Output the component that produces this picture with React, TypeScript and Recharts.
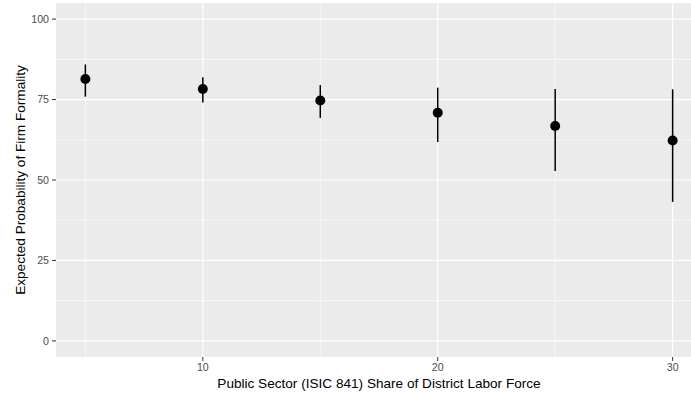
import React from 'react';
import {
  ComposedChart,
  Scatter,
  ErrorBar,
  XAxis,
  YAxis,
  CartesianGrid,
  Label,
} from 'recharts';

// public sector share (x) and expected probability with interval
const shares = [5, 10, 15, 20, 25, 30];
const estimates = [81.4, 78.3, 74.7, 70.9, 66.8, 62.3];
const lower = [75.9, 74.1, 69.3, 61.8, 52.8, 43.2];
const upper = [85.9, 81.9, 79.5, 78.7, 78.3, 78.2];

const xTicks = [10, 20, 30];
const xMinor = [5, 15, 25];
const yTicks = [0, 25, 50, 75, 100];
const yMinor = [12.5, 37.5, 62.5, 87.5];

const FONT = '"Liberation Sans", Arial, Helvetica, sans-serif';

export default function App() {
  const points = shares.map((x, i) => ({
    x,
    y: estimates[i],
    err: [estimates[i] - lower[i], upper[i] - estimates[i]],
  }));

  const tickStyle = { fontSize: 10.6, fill: '#4D4D4D', fontFamily: FONT };

  return (
    <div style={{ position: 'absolute', left: 0, top: 0, width: 691, height: 393, overflow: 'hidden', background: '#fff' }}>
      <ComposedChart width={702} height={393} margin={{ top: 3, right: 0, bottom: 0, left: 0 }}>
        <CartesianGrid
          fill="#EBEBEB"
          stroke="#FFFFFF"
          strokeWidth={0.6}
          horizontalValues={yMinor}
          verticalValues={xMinor}
        />
        <CartesianGrid
          stroke="#FFFFFF"
          strokeWidth={1.2}
          horizontalValues={yTicks}
          verticalValues={xTicks}
        />
        <XAxis
          type="number"
          dataKey="x"
          domain={[3.75, 31.25]}
          ticks={xTicks}
          allowDataOverflow
          axisLine={false}
          tickLine={{ stroke: '#333333' }}
          tickSize={4}
          tickMargin={2}
          height={36}
          tick={tickStyle}
        >
          <Label
            content={({ viewBox }: any) => (
              <text
                x={viewBox.x + viewBox.width / 2}
                y={388}
                textAnchor="middle"
                fontSize={13.6}
                fontFamily={FONT}
                fill="#000"
              >
                Public Sector (ISIC 841) Share of District Labor Force
              </text>
            )}
          />
        </XAxis>
        <YAxis
          type="number"
          dataKey="y"
          domain={[-5, 105]}
          ticks={yTicks}
          allowDataOverflow
          axisLine={false}
          tickLine={{ stroke: '#333333' }}
          tickSize={4}
          tickMargin={3}
          width={56}
          tick={tickStyle}
        >
          <Label
            content={({ viewBox }: any) => {
              const cy = viewBox.y + viewBox.height / 2;
              return (
                <text
                  x={20}
                  y={cy}
                  transform={`rotate(-90 20 ${cy})`}
                  textAnchor="middle"
                  dominantBaseline="central"
                  fontSize={13.6}
                  fontFamily={FONT}
                  fill="#000"
                >
                  Expected Probability of Firm Formality
                </text>
              );
            }}
          />
        </YAxis>
        <Scatter
          data={points}
          dataKey="y"
          isAnimationActive={false}
          shape={(p: any) => <circle cx={p.cx} cy={p.cy} r={5} fill="#000" />}
        >
          <ErrorBar dataKey="err" direction="y" width={0} stroke="#000" strokeWidth={1.5} />
        </Scatter>
      </ComposedChart>
    </div>
  );
}
